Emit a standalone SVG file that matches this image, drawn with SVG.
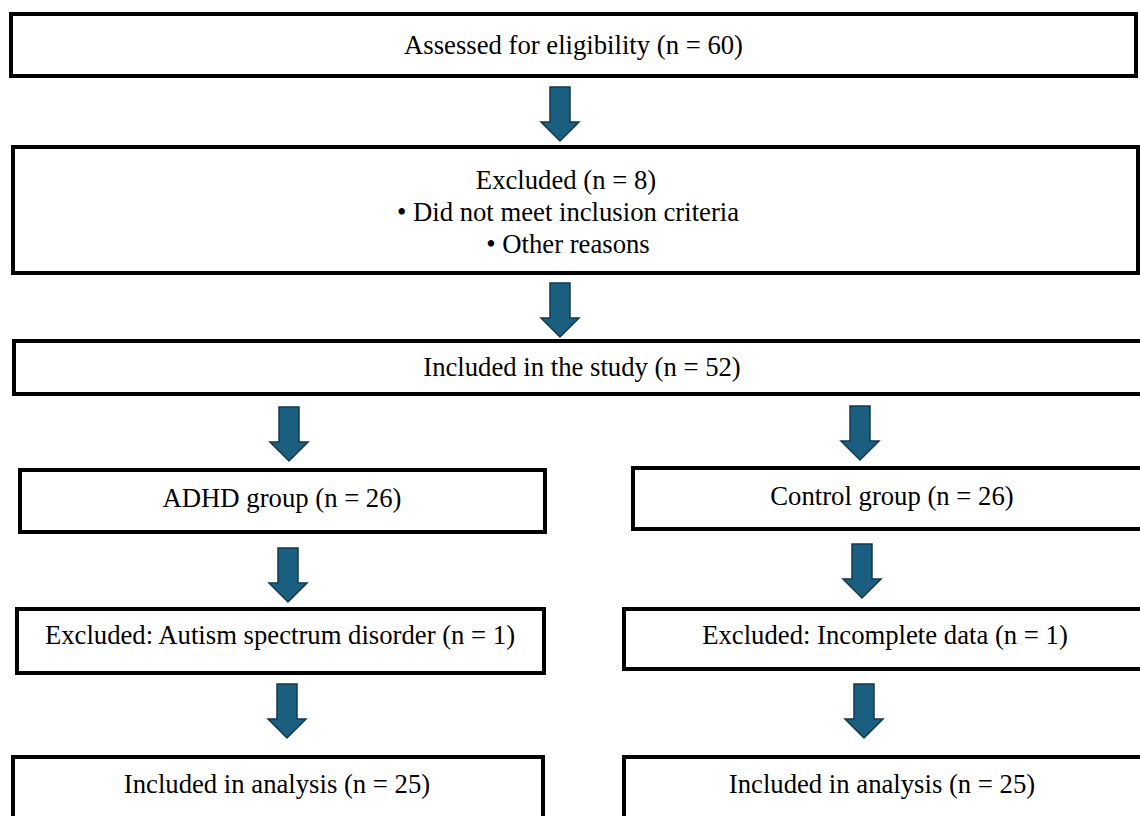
<svg xmlns="http://www.w3.org/2000/svg" width="1140" height="816" viewBox="0 0 1140 816">
<style>
.box{fill:#ffffff;stroke:#000000;stroke-width:4}
.t{font-family:"Liberation Serif","Times New Roman",serif;font-size:26.7px;fill:#000000;text-anchor:middle}
.b{font-family:"Liberation Serif","DejaVu Serif",serif}
.arr{fill:#1b5f80;stroke:#15394c;stroke-width:1.5;stroke-linejoin:miter}
</style>
<defs>
<path id="dn" d="M-10,0 H10 V35 H19 L0,54 L-19,35 H-10 Z"/>
</defs>
<rect width="1140" height="816" fill="#ffffff"/>
<g id="connectors">
<use href="#dn" class="arr" x="560" y="87"/>
<use href="#dn" class="arr" x="560" y="283"/>
<use href="#dn" class="arr" x="289" y="407"/>
<use href="#dn" class="arr" x="860" y="406"/>
<use href="#dn" class="arr" x="288" y="548"/>
<use href="#dn" class="arr" x="862" y="544"/>
<use href="#dn" class="arr" x="287" y="684"/>
<use href="#dn" class="arr" x="864" y="684"/>
</g>
<g id="n1"><rect class="box" x="11" y="14" width="1125" height="62"/><text class="t" x="573.5" y="54">Assessed for eligibility (n = 60)</text></g>
<g id="n2"><rect class="box" x="13" y="147" width="1125" height="126"/>
<text class="t" x="566" y="189">Excluded (n = 8)</text>
<text class="t" x="568" y="221"><tspan class="b">•</tspan> Did not meet inclusion criteria</text>
<text class="t" x="568" y="253"><tspan class="b">•</tspan> Other reasons</text></g>
<g id="n3"><rect class="box" x="14" y="341" width="1150" height="53"/><text class="t" x="582" y="376">Included in the study (n = 52)</text></g>
<g id="n4"><rect class="box" x="20" y="470" width="525" height="62"/><text class="t" x="282" y="507">ADHD group (n = 26)</text></g>
<g id="n5"><rect class="box" x="633" y="468" width="540" height="61"/><text class="t" x="892" y="505">Control group (n = 26)</text></g>
<g id="n6"><rect class="box" x="17" y="609" width="527" height="64"/><text class="t" x="280" y="644">Excluded: Autism spectrum disorder (n = 1)</text></g>
<g id="n7"><rect class="box" x="624" y="609" width="550" height="60"/><text class="t" x="885" y="644">Excluded: Incomplete data (n = 1)</text></g>
<g id="n8"><rect class="box" x="13" y="757" width="530" height="80"/><text class="t" x="277" y="793">Included in analysis (n = 25)</text></g>
<g id="n9"><rect class="box" x="624" y="757" width="550" height="80"/><text class="t" x="882" y="793">Included in analysis (n = 25)</text></g>
</svg>
